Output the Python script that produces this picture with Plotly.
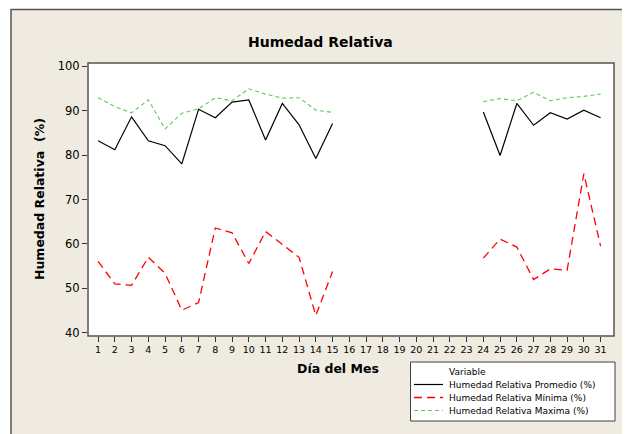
import plotly.graph_objects as go

days = list(range(1, 32))
promedio = [83.2, 81.2, 88.6, 83.2, 82.1, 78.0, 90.3, 88.4, 91.9, 92.4, 83.4, 91.6, 86.8, 79.2, 87.1,
            None, None, None, None, None, None, None, None,
            89.7, 79.9, 91.6, 86.7, 89.5, 88.1, 90.1, 88.4]
minima = [56.1, 51.0, 50.7, 57.0, 53.4, 45.1, 46.8, 63.6, 62.5, 55.6, 62.8, 59.9, 57.0, 43.9, 53.8,
          None, None, None, None, None, None, None, None,
          56.8, 61.1, 59.3, 52.0, 54.4, 54.1, 75.8, 59.5]
maxima = [92.9, 90.9, 89.5, 92.4, 85.9, 89.4, 90.4, 92.9, 92.2, 94.9, 93.7, 92.8, 92.9, 90.1, 89.6,
          None, None, None, None, None, None, None, None,
          92.0, 92.7, 92.2, 94.1, 92.2, 92.9, 93.2, 93.7]
y_ticks = [40, 50, 60, 70, 80, 90, 100]
series_names = ["Humedad Relativa Promedio (%)", "Humedad Relativa Mínima (%)", "Humedad Relativa Maxima (%)"]
legend_title = "Variable"

# page has an 8px body margin: figure pixel = screen pixel - 8
OFF = 8
W, H = 622, 426
L, T = 80, 55
PW, PH = 526, 273
R, B = W - L - PW, H - T - PH

def px(sx):
    return (sx - OFF - L) / PW

def py(sy):
    return (T + PH - (sy - OFF)) / PH

FONT = "DejaVu Sans"
BEIGE = "#EFEBE0"
EDGE = "#555555"

styles = [
    dict(color="#000000", width=1.2),
    dict(color="#FF0000", width=1.3, dash="8px,5px"),
    dict(color="#5CCB5C", width=1.1, dash="4px,3px"),
]

fig = go.Figure()
for name, vals, st in zip(series_names, [promedio, minima, maxima], styles):
    fig.add_trace(go.Scatter(x=days, y=vals, mode="lines", name=name,
                             line=st, connectgaps=False, showlegend=False))

shapes = [
    dict(type="rect", xref="paper", yref="paper", x0=px(11), x1=px(627), y0=py(460), y1=py(9.5),
         fillcolor=BEIGE, line=dict(color=EDGE, width=1.5), layer="below"),
    dict(type="rect", xref="paper", yref="paper", x0=0, x1=1, y0=0, y1=1,
         fillcolor="#FFFFFF", line=dict(color=EDGE, width=1.5), layer="below"),
    # legend box
    dict(type="rect", xref="paper", yref="paper", x0=px(410.5), x1=px(615), y0=py(421), y1=py(362),
         fillcolor="#FFFFFF", line=dict(color="#404040", width=1), layer="above"),
]

annotations = [
    dict(text="<b>Humedad Relativa</b>", xref="paper", yref="paper", x=px(320), y=py(42),
         showarrow=False, font=dict(family=FONT, size=14, color="#000000"),
         xanchor="center", yanchor="middle"),
    dict(text="<b>Día del Mes</b>", xref="paper", yref="paper", x=px(338), y=py(368),
         showarrow=False, font=dict(family=FONT, size=12.5, color="#000000"),
         xanchor="center", yanchor="middle"),
    dict(text="<b>Humedad Relativa  (%)</b>", xref="paper", yref="paper", x=px(39), y=py(199),
         showarrow=False, textangle=-90, font=dict(family=FONT, size=12.5, color="#000000"),
         xanchor="center", yanchor="middle"),
    dict(text=legend_title, xref="paper", yref="paper", x=px(447), y=py(372),
         showarrow=False, font=dict(family=FONT, size=9, color="#000000"),
         xanchor="left", yanchor="middle"),
]

row_y = [384.5, 397.5, 410.5]
for name, st, ry in zip(series_names, styles, row_y):
    shapes.append(dict(type="line", xref="paper", yref="paper", x0=px(414), x1=px(443),
                       y0=py(ry), y1=py(ry), line=st, layer="above"))
    annotations.append(dict(text=name, xref="paper", yref="paper", x=px(447), y=py(ry),
                            showarrow=False, font=dict(family=FONT, size=9, color="#000000"),
                            xanchor="left", yanchor="middle"))

fig.update_layout(
    width=W, height=H,
    margin=dict(l=L, r=R, t=T, b=B, pad=0),
    paper_bgcolor="#FFFFFF",
    plot_bgcolor="rgba(0,0,0,0)",
    font=dict(family=FONT, color="#000000"),
    shapes=shapes,
    annotations=annotations,
    showlegend=False,
    xaxis=dict(
        range=[0.4, 31.8], tickmode="array", tickvals=days, ticktext=[str(d) for d in days],
        ticks="outside", ticklen=5, tickcolor="#333333", tickwidth=1,
        showline=False, showgrid=False, zeroline=False,
        tickfont=dict(family=FONT, size=9.5), automargin=False,
    ),
    yaxis=dict(
        range=[39.3, 100.7], tickmode="array", tickvals=y_ticks,
        ticks="outside", ticklen=5, tickcolor="#333333", tickwidth=1,
        showline=False, showgrid=False, zeroline=False,
        tickfont=dict(family=FONT, size=11.5), automargin=False,
    ),
)

fig.write_html("out.html")
